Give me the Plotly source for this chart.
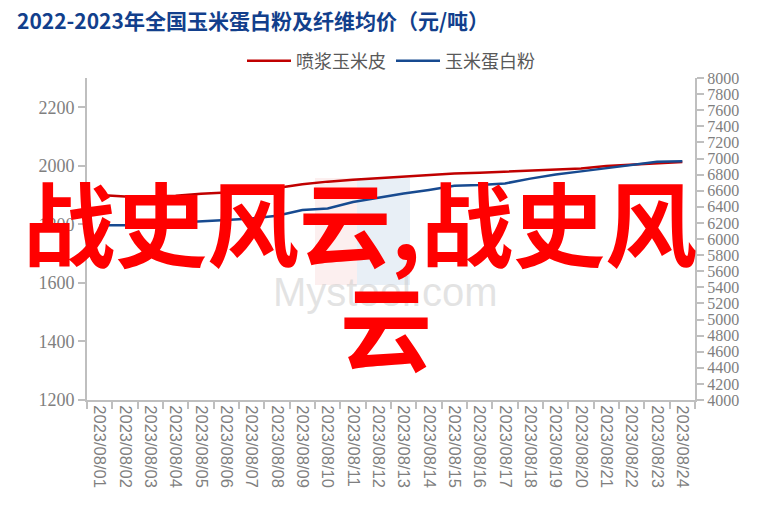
import plotly.graph_objects as go

dates = ["2023/08/01", "2023/08/02", "2023/08/03", "2023/08/04", "2023/08/05", "2023/08/06",
         "2023/08/07", "2023/08/08", "2023/08/09", "2023/08/10", "2023/08/11", "2023/08/12",
         "2023/08/13", "2023/08/14", "2023/08/15", "2023/08/16", "2023/08/17", "2023/08/18",
         "2023/08/19", "2023/08/20", "2023/08/21", "2023/08/22", "2023/08/23", "2023/08/24"]
corn_husk = [1900, 1895, 1895, 1898, 1905, 1909, 1916, 1924, 1937, 1946, 1952, 1957,
             1963, 1969, 1974, 1976, 1980, 1983, 1988, 1991, 1999, 2004, 2010, 2013]
gluten_meal = [6170, 6170, 6185, 6200, 6220, 6235, 6255, 6290, 6360, 6380, 6460, 6515,
               6565, 6610, 6660, 6670, 6690, 6750, 6800, 6840, 6880, 6920, 6960, 6965]
name_husk = "喷浆玉米皮"
name_meal = "玉米蛋白粉"
title_text = "2022-2023年全国玉米蛋白粉及纤维均价（元/吨）"

OFF = 8  # page body margin
W, H = 771 - 2 * OFF, 520 - 2 * OFF
L = 87 - OFF
T = 78 - OFF
R = W - (695 - OFF)
B = H - (400 - OFF)
PW, PH = W - L - R, H - T - B

def px(x):
    return (x - OFF - L) / PW

def py(y):
    return (H - B - (y - OFF)) / PH

grey = "#bfbfbf"
serif = "Liberation Serif, Times New Roman, serif"

fig = go.Figure()
fig.add_trace(go.Scatter(x=dates, y=corn_husk, name=name_husk, mode="lines",
                         line=dict(color="#c00000", width=2.5), yaxis="y"))
fig.add_trace(go.Scatter(x=dates, y=gluten_meal, name=name_meal, mode="lines",
                         line=dict(color="#174a90", width=2.5), yaxis="y2"))

fig.update_layout(
    width=W, height=H,
    margin=dict(l=L, r=R, t=T, b=B, autoexpand=False),
    paper_bgcolor="white", plot_bgcolor="white",
    title=dict(text=title_text, x=(17 - OFF) / W, xanchor="left", y=1 - 6 / H, yanchor="top",
               pad=dict(t=0, l=0),
               font=dict(family="Noto Sans CJK SC", size=21, color="#123f8c", weight="bold")),
    legend=dict(orientation="h", x=0.5, xanchor="center", y=py(61), yanchor="middle",
                font=dict(family="Noto Sans CJK SC", size=18, color="#595959"),
                bgcolor="rgba(0,0,0,0)", itemwidth=44),
    xaxis=dict(type="category", range=[-0.5, len(dates) - 0.5], tickson="boundaries",
               showline=True, linecolor=grey, linewidth=2, ticks="outside", ticklen=7,
               tickwidth=2, tickcolor=grey, tickangle=90, showgrid=False, zeroline=False,
               tickfont=dict(family="Liberation Sans", size=16.5, color="#7f7f7f")),
    yaxis=dict(range=[1200, 2300], tick0=1200, dtick=200, showline=True, linecolor=grey,
               linewidth=2, ticks="outside", ticklen=7, tickwidth=2, tickcolor=grey,
               showgrid=False, zeroline=False,
               tickfont=dict(family=serif, size=18, color="#7f7f7f")),
    yaxis2=dict(range=[4000, 8000], tick0=4000, dtick=200, overlaying="y", side="right",
                showline=True, linecolor=grey, linewidth=2, ticks="outside", ticklen=7,
                tickwidth=2, tickcolor=grey, showgrid=False, zeroline=False,
                tickfont=dict(family=serif, size=16, color="#7f7f7f")),
)

# faint Mysteel watermark
fig.add_shape(type="rect", xref="paper", yref="paper", x0=px(315), x1=px(357), y0=py(285), y1=py(178),
              fillcolor="rgba(235,150,150,0.15)", line=dict(width=0), layer="below")
fig.add_shape(type="rect", xref="paper", yref="paper", x0=px(357), x1=px(410), y0=py(285), y1=py(178),
              fillcolor="rgba(150,180,215,0.22)", line=dict(width=0), layer="below")
fig.add_annotation(text="Mysteel.com", xref="paper", yref="paper", x=px(385), y=py(292),
                   showarrow=False, font=dict(family="Liberation Sans", size=40, color="rgba(200,200,200,0.5)"))

# red overlay text
fig.add_annotation(text="战史风云,战史风", xref="paper", yref="paper", x=px(360), y=py(219),
                   showarrow=False, xanchor="center", yanchor="middle",
                   font=dict(family="Noto Sans CJK SC", size=92, color="#ff0000", weight="bold"))
fig.add_annotation(text="云", xref="paper", yref="paper", x=px(386), y=py(323),
                   showarrow=False, xanchor="center", yanchor="middle",
                   font=dict(family="Noto Sans CJK SC", size=92, color="#ff0000", weight="bold"))

fig.write_html("out.html")
